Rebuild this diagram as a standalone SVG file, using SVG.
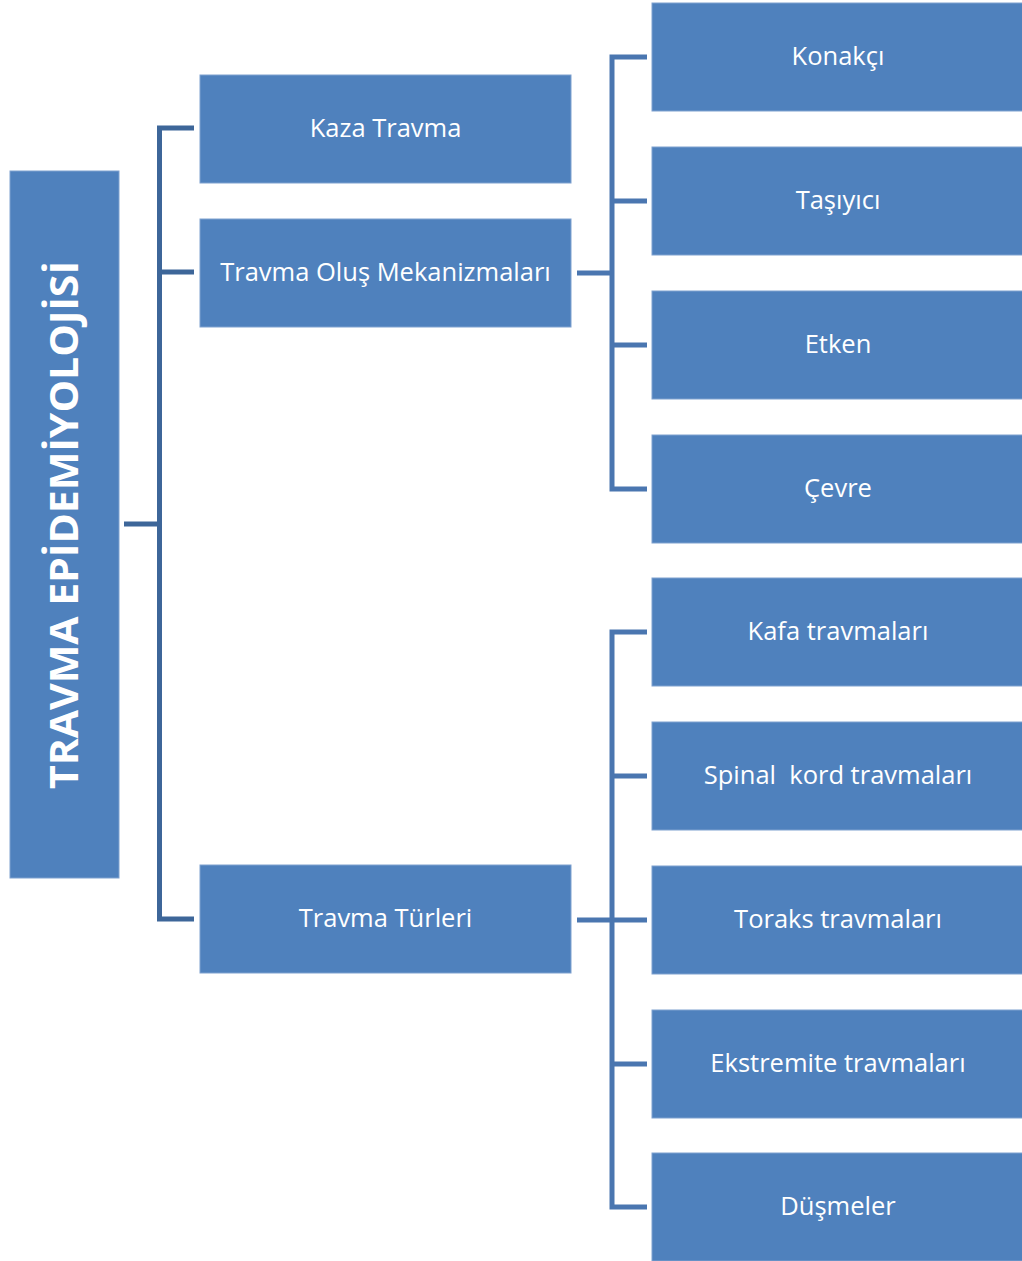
<svg xmlns="http://www.w3.org/2000/svg" width="1022" height="1261" viewBox="0 0 1022 1261">
<style>
.box{fill:#4F81BD;stroke:#7FA1CF;stroke-width:1}
.t{font-family:"Open Sans","Liberation Sans",sans-serif;font-size:25.5px;fill:#FFFFFF;text-anchor:middle}
.root{font-family:"Open Sans","Liberation Sans",sans-serif;font-size:39px;font-weight:bold;fill:#FFFFFF;text-anchor:middle}
.c1{fill:none;stroke:#3D6699;stroke-width:5}
.c2{fill:none;stroke:#4A76B0;stroke-width:5}
</style>
<g id="connectors">
<path class="c1" d="M124,524 H159.5 M194,128 H159.5 V919 H194 M159.5,272 H194"/>
<path class="c2" d="M577,273 H612 M647,57 H612 V489 H647 M612,201 H647 M612,345 H647"/>
<path class="c2" d="M577,920 H612 M647,632 H612 V1207 H647 M612,776 H647 M612,920 H647 M612,1064 H647"/>
</g>
<g id="root"><rect class="box" x="10" y="171" width="109" height="707"/><text class="root" transform="translate(78,525) rotate(-90)" textLength="528" lengthAdjust="spacingAndGlyphs">TRAVMA EPİDEMİYOLOJİSİ</text></g>
<g id="kaza"><rect class="box" x="200" y="75" width="371" height="108"/><text class="t" x="385.5" y="137">Kaza Travma</text></g>
<g id="olus"><rect class="box" x="200" y="219" width="371" height="108"/><text class="t" x="385.5" y="281">Travma Oluş Mekanizmaları</text></g>
<g id="turler"><rect class="box" x="200" y="865" width="371" height="108"/><text class="t" x="385.5" y="927">Travma Türleri</text></g>
<g id="konakci"><rect class="box" x="652" y="3" width="371" height="108"/><text class="t" x="838" y="65">Konakçı</text></g>
<g id="tasiyici"><rect class="box" x="652" y="147" width="371" height="108"/><text class="t" x="838" y="209">Taşıyıcı</text></g>
<g id="etken"><rect class="box" x="652" y="291" width="371" height="108"/><text class="t" x="838" y="353">Etken</text></g>
<g id="cevre"><rect class="box" x="652" y="435" width="371" height="108"/><text class="t" x="838" y="497">Çevre</text></g>
<g id="kafa"><rect class="box" x="652" y="578" width="371" height="108"/><text class="t" x="838" y="640">Kafa travmaları</text></g>
<g id="spinal"><rect class="box" x="652" y="722" width="371" height="108"/><text class="t" x="838" y="784" xml:space="preserve">Spinal  kord travmaları</text></g>
<g id="toraks"><rect class="box" x="652" y="866" width="371" height="108"/><text class="t" x="838" y="928">Toraks travmaları</text></g>
<g id="ekstremite"><rect class="box" x="652" y="1010" width="371" height="108"/><text class="t" x="838" y="1072">Ekstremite travmaları</text></g>
<g id="dusmeler"><rect class="box" x="652" y="1153" width="371" height="108"/><text class="t" x="838" y="1215">Düşmeler</text></g>
</svg>
